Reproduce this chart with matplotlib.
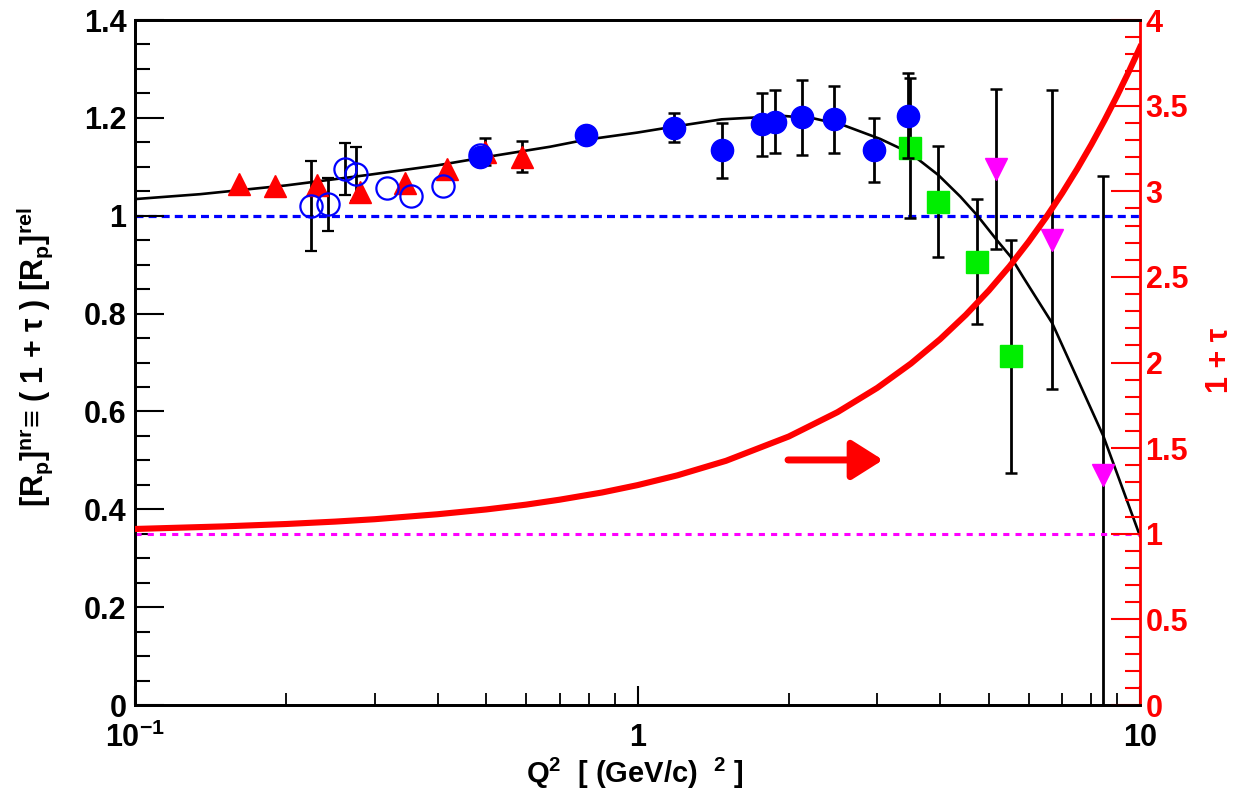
import numpy as np
import matplotlib.pyplot as plt

plt.rcParams['font.family'] = ['Liberation Sans', 'DejaVu Sans']
plt.rcParams['font.weight'] = 'bold'
plt.rcParams['mathtext.fontset'] = 'custom'
plt.rcParams['mathtext.rm'] = 'Liberation Sans:bold'
plt.rcParams['mathtext.bf'] = 'Liberation Sans:bold'
plt.rcParams['mathtext.it'] = 'Liberation Sans:bold'
plt.rcParams['mathtext.default'] = 'bf'

# datos leidos del grafico
# circulos azules llenos
q2_azul = [0.486, 0.79, 1.18, 1.475, 1.767, 1.877, 2.128, 2.465, 2.96, 3.46]
r_azul = [1.120, 1.165, 1.180, 1.134, 1.187, 1.192, 1.201, 1.197, 1.134, 1.204]
e_azul = [0.010, np.nan, 0.030, 0.056, 0.064, 0.064, 0.076, 0.068, 0.066, 0.087]

# circulos abiertos
q2_abierto = [0.2237, 0.2425, 0.2618, 0.2753, 0.3177, 0.354, 0.4108, 0.486]
r_abierto = [1.020, 1.023, 1.095, 1.085, 1.057, 1.040, 1.061, 1.124]
e_abierto = [0.092, 0.054, 0.053, 0.055, np.nan, np.nan, np.nan, np.nan]

# triangulos rojos
q2_tri = [0.1613, 0.19, 0.2306, 0.2804, 0.3446, 0.4172, 0.497, 0.590]
r_tri = [1.065, 1.061, 1.063, 1.049, 1.066, 1.095, 1.131, 1.121]
e_tri = [np.nan, np.nan, np.nan, np.nan, np.nan, np.nan, 0.027, 0.031]

# cuadrados verdes
q2_verde = [3.486, 3.97, 4.745, 5.53]
r_verde = [1.139, 1.029, 0.906, 0.713]
e_verde = [0.143, 0.113, 0.128, 0.238]

# triangulos magenta (hacia abajo)
q2_mag = [5.16, 6.69, 8.45]
r_mag = [1.096, 0.951, 0.471]
e_mag = [0.163, 0.305, 0.61]

# curva de ajuste (negra)
q2_fit = [0.1, 0.1347, 0.2, 0.289, 0.4, 0.5, 0.67, 0.786, 1.0, 1.18, 1.47,
          1.95, 2.24, 2.57, 3.04, 3.49, 3.97, 4.39, 4.74, 5.19, 5.53, 5.85,
          6.69, 8.45, 10.0]
r_fit = [1.034, 1.044, 1.062, 1.083, 1.103, 1.120, 1.141, 1.155, 1.170,
         1.182, 1.197, 1.204, 1.199, 1.185, 1.157, 1.128, 1.083, 1.039,
         1.001, 0.950, 0.916, 0.875, 0.780, 0.550, 0.345]

# curva 1 + tau (eje derecho)
q2_tau = [0.1, 0.15, 0.2, 0.25, 0.3, 0.4, 0.5, 0.6, 0.7, 0.85, 1.0, 1.2,
          1.5, 2.0, 2.5, 3.0, 3.5, 4.0, 4.5, 5.0, 5.5, 6.0, 6.5, 7.0, 7.5,
          8.0, 8.5, 9.0, 9.5, 10.0]
uno_mas_tau = [1.028, 1.043, 1.057, 1.071, 1.085, 1.114, 1.142, 1.170,
               1.199, 1.241, 1.284, 1.341, 1.426, 1.568, 1.710, 1.852,
               1.994, 2.136, 2.278, 2.420, 2.562, 2.705, 2.847, 2.989,
               3.131, 3.273, 3.415, 3.557, 3.699, 3.841]

fig = plt.figure(figsize=(12.45, 7.91), dpi=100)
ax = fig.add_axes([0.1084, 0.1087, 0.8073, 0.866])
ax2 = ax.twinx()

ax.set_xscale('log')
ax.set_xlim(0.1, 10)
ax.set_ylim(0, 1.4)
ax2.set_ylim(0, 4)

# lineas de referencia
ax.axhline(1.0, color='#0000ff', lw=2.3, ls=(0, (2.5, 1.6)), zorder=1)
ax2.axhline(1.0, color='#ff00ff', lw=2.2, ls=(0, (2.0, 2.0)), zorder=1)

ax.plot(q2_fit, r_fit, color='black', lw=1.9, zorder=2)

eb = dict(ecolor='black', elinewidth=2.0, capsize=4.5, capthick=1.8, ls='none')
ax.errorbar(q2_verde, r_verde, yerr=e_verde, fmt='s', color='#00ee00',
            ms=16, mec='#00ee00', zorder=3, **eb)
ax.errorbar(q2_mag, r_mag, yerr=e_mag, fmt='v', color='#ff00ff',
            ms=16, mec='#ff00ff', zorder=3, **eb)
ax.errorbar(q2_tri, r_tri, yerr=e_tri, fmt='^', color='#ff0000',
            ms=16, mec='#ff0000', zorder=3, **eb)
ax.errorbar(q2_abierto, r_abierto, yerr=e_abierto, fmt='o', mfc='none',
            mec='#0000ff', mew=1.6, ms=16, zorder=3, **eb)
ax.errorbar(q2_azul, r_azul, yerr=e_azul, fmt='o', color='#0000ff',
            ms=16, mec='#0000ff', zorder=4, **eb)

ax2.plot(q2_tau, uno_mas_tau, color='#ff0000', lw=4.4, zorder=5)
ax2.annotate('', xy=(3.08, 1.431), xytext=(1.993, 1.431),
             arrowprops=dict(arrowstyle='-|>,head_length=0.95,head_width=0.6',
                             color='#ff0000', lw=5, mutation_scale=20,
                             shrinkA=0, shrinkB=0))

# ejes estilo ROOT
ax.set_yticks(np.arange(0, 1.41, 0.2))
ax.set_yticks(np.arange(0, 1.41, 0.05), minor=True)
ax.set_yticklabels(['0', '0.2', '0.4', '0.6', '0.8', '1', '1.2', '1.4'])
ax.set_xticks([0.1, 1, 10])
ax.set_xticklabels([r'$10^{-1}$', '1', '10'])
ax.tick_params(axis='both', which='major', direction='in', labelsize=22,
               width=1.5, colors='black')
ax.tick_params(axis='y', which='major', length=21, pad=6)
ax.tick_params(axis='y', which='minor', direction='in', length=11, width=1.5)
ax.tick_params(axis='x', which='major', length=14, pad=13)
ax.tick_params(axis='x', which='minor', direction='in', length=9, width=1.3)
ax.tick_params(top=False, right=False, which='both')
ax.xaxis.set_minor_formatter(plt.NullFormatter())

ax2.set_yticks(np.arange(0, 4.01, 0.5))
ax2.set_yticks(np.arange(0, 4.01, 0.1), minor=True)
ax2.set_yticklabels(['0', '0.5', '1', '1.5', '2', '2.5', '3', '3.5', '4'])
ax2.tick_params(axis='y', which='major', direction='in', length=21, width=1.5,
                colors='#ff0000', labelsize=22, pad=4)
ax2.tick_params(axis='y', which='minor', direction='in', length=11, width=1.5,
                colors='#ff0000')
for s in ['left', 'bottom', 'top']:
    ax.spines[s].set_linewidth(2)
    ax2.spines[s].set_linewidth(2)
ax2.spines['right'].set_color('#ff0000')
ax2.spines['right'].set_linewidth(2)
ax.spines['right'].set_visible(False)

# titulos de ejes
fig.text(35 / 1245, 1 - 357 / 791,
         r'[R$_{p}$]$^{nr}$≡ ( 1 + τ ) [R$_{p}$]$^{rel}$',
         fontsize=22, rotation=90, ha='center', va='center')
fig.text(1220 / 1245, 1 - 360 / 791, '1 + τ', fontsize=22, color='#ff0000',
         rotation=90, ha='center', va='center')
fig.text(635 / 1245, 1 - 783 / 791, r'Q$^{2}$  [ (GeV/c)  $^{2}$ ]',
         fontsize=21, ha='center', va='baseline')

fig.savefig('out.png', dpi=100)
